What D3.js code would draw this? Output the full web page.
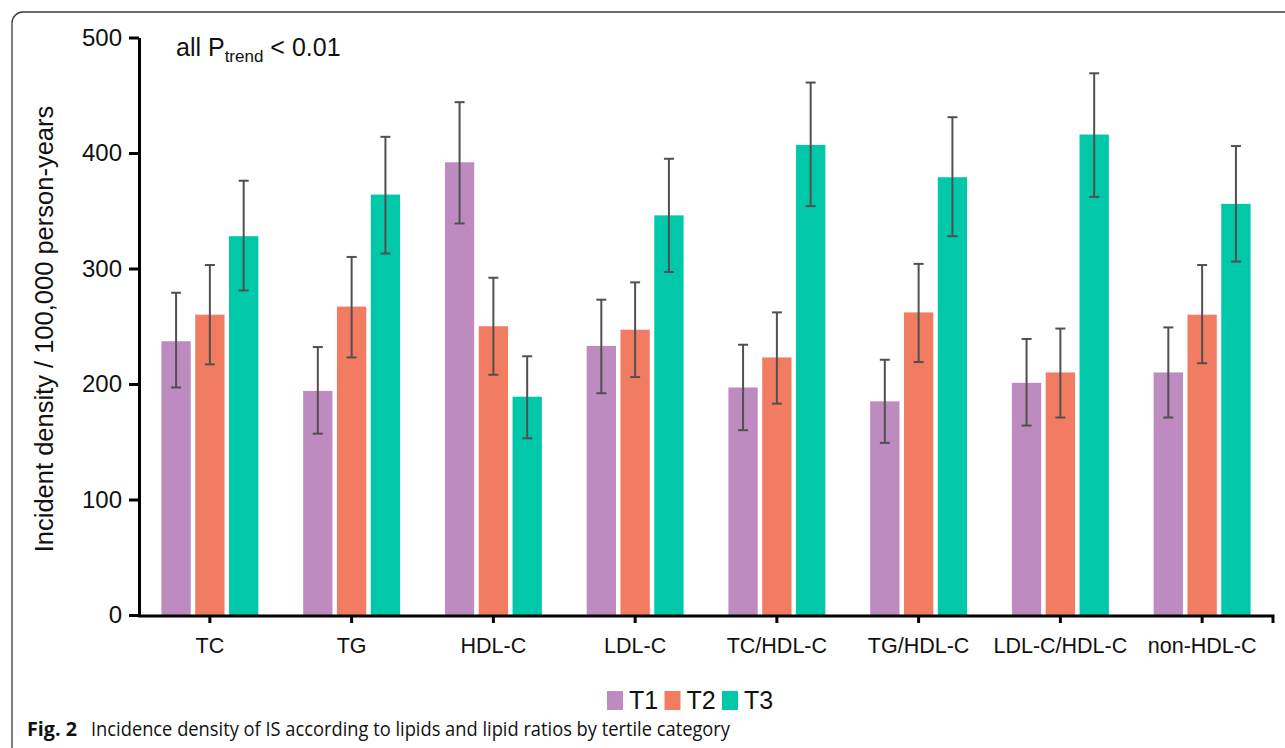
<!DOCTYPE html>
<html>
<head>
<meta charset="utf-8">
<script src="https://cdn.jsdelivr.net/npm/d3@7/dist/d3.min.js"></script>
<style>
  html, body { margin: 0; padding: 0; background: #ffffff; }
  svg { display: block; }
  text { font-family: "Liberation Sans", Arial, Helvetica, sans-serif; fill: #111; }
</style>
</head>
<body>
<svg id="chart" width="1285" height="748"></svg>
<script>
// ---------- data ----------
const categories = ["TC", "TG", "HDL-C", "LDL-C", "TC/HDL-C", "TG/HDL-C", "LDL-C/HDL-C", "non-HDL-C"];
const seriesNames = ["T1", "T2", "T3"];
const t1Values = [237, 194, 392, 233, 197, 185, 201, 210];
const t1Lower  = [197, 157, 339, 192, 160, 149, 164, 171];
const t1Upper  = [279, 232, 444, 273, 234, 221, 239, 249];
const t2Values = [260, 267, 250, 247, 223, 262, 210, 260];
const t2Lower  = [217, 223, 208, 206, 183, 219, 171, 218];
const t2Upper  = [303, 310, 292, 288, 262, 304, 248, 303];
const t3Values = [328, 364, 189, 346, 407, 379, 416, 356];
const t3Lower  = [281, 313, 153, 297, 354, 328, 362, 306];
const t3Upper  = [376, 414, 224, 395, 461, 431, 469, 406];
const yTicks = [0, 100, 200, 300, 400, 500];
const seriesColors = ["#bd8bbf", "#f27c61", "#00c8a8"];
const yLabel = "Incident density / 100,000 person-years";
const captionBold = "Fig. 2";
const captionText = "Incidence density of IS according to lipids and lipid ratios by tertile category";

const series = [
  { name: seriesNames[0], values: t1Values, lo: t1Lower, hi: t1Upper, color: seriesColors[0] },
  { name: seriesNames[1], values: t2Values, lo: t2Lower, hi: t2Upper, color: seriesColors[1] },
  { name: seriesNames[2], values: t3Values, lo: t3Lower, hi: t3Upper, color: seriesColors[2] }
];
const rows = [];
series.forEach((s, si) => {
  categories.forEach((c, ci) => {
    rows.push({ cat: c, s: s.name, v: s.values[ci], lo: s.lo[ci], hi: s.hi[ci], color: s.color });
  });
});

// ---------- layout ----------
const svg = d3.select("#chart");
const axisX = 139, x0 = 139, x1 = 1273, yBottom = 615, yTop = 37.5;

// figure frame (rounded, open to the right/bottom)
svg.append("rect")
  .attr("x", 12).attr("y", 12)
  .attr("width", 1400).attr("height", 900)
  .attr("rx", 11).attr("ry", 11)
  .attr("fill", "none").attr("stroke", "#3a3a3a").attr("stroke-width", 1.3);

const x = d3.scaleBand().domain(categories).range([x0, x1]).padding(0);
const xs = d3.scaleBand().domain(seriesNames).range([0, x.bandwidth()])
  .paddingInner(0.133).paddingOuter(0.663);
const y = d3.scaleLinear().domain([0, 500]).range([yBottom, yTop]);

// bars
svg.append("g").selectAll("rect").data(rows).join("rect")
  .attr("x", d => x(d.cat) + xs(d.s))
  .attr("width", xs.bandwidth())
  .attr("y", d => y(d.v))
  .attr("height", d => y(0) - y(d.v))
  .attr("fill", d => d.color);

// error bars
const eb = svg.append("g").attr("stroke", "#505050").attr("stroke-width", 2).attr("fill", "none");
const capW = 10;
rows.forEach(d => {
  const cx = x(d.cat) + xs(d.s) + xs.bandwidth() / 2;
  eb.append("line").attr("x1", cx).attr("x2", cx).attr("y1", y(d.hi)).attr("y2", y(d.lo));
  eb.append("line").attr("x1", cx - capW / 2).attr("x2", cx + capW / 2).attr("y1", y(d.hi)).attr("y2", y(d.hi));
  eb.append("line").attr("x1", cx - capW / 2).attr("x2", cx + capW / 2).attr("y1", y(d.lo)).attr("y2", y(d.lo));
});

// y axis
const yAxis = svg.append("g").attr("transform", `translate(${axisX},0)`)
  .call(d3.axisLeft(y).tickValues(yTicks).tickSize(10).tickPadding(7).tickSizeOuter(0));
yAxis.select(".domain").attr("stroke", "#000").attr("stroke-width", 3);
yAxis.selectAll(".tick line").attr("stroke", "#000").attr("stroke-width", 3);
yAxis.selectAll(".tick text").style("font-size", "24px").attr("fill", "#111")
  .style("font-family", "'Liberation Sans', Arial, sans-serif");

// x axis
const xAxis = svg.append("g").attr("transform", `translate(0,${yBottom + 1})`)
  .call(d3.axisBottom(x).tickSize(7).tickSizeOuter(0).tickPadding(15));
xAxis.select(".domain").attr("stroke", "#000").attr("stroke-width", 3)
  .attr("d", `M${x0 - 1},0H${x1}V7`);
xAxis.selectAll(".tick line").attr("stroke", "#000").attr("stroke-width", 3);
xAxis.selectAll(".tick text").style("font-size", "21.5px").attr("fill", "#111")
  .style("font-family", "'Liberation Sans', Arial, sans-serif");

// y label
svg.append("text")
  .attr("transform", `translate(53,${(100 + 558) / 2}) rotate(-90)`)
  .attr("text-anchor", "middle")
  .style("font-size", "25.5px")
  .text(yLabel);

// p-trend annotation
const pt = svg.append("text").attr("x", 176).attr("y", 56).style("font-size", "25px");
pt.append("tspan").text("all P");
pt.append("tspan").attr("dy", 6).style("font-size", "17px").text("trend");
pt.append("tspan").attr("dy", -6).text(" < 0.01");

// legend
const legStep = 57.5, legX = 607, legY = 691;
const leg = svg.append("g");
series.forEach((s, i) => {
  const gx = legX + i * legStep;
  leg.append("rect").attr("x", gx).attr("y", legY).attr("width", 16).attr("height", 19).attr("fill", s.color);
  leg.append("text").attr("x", gx + 22).attr("y", legY + 18).style("font-size", "25px").text(s.name);
});

// caption
svg.append("text").attr("x", 27).attr("y", 736)
  .style("font-family", "'Open Sans', 'Noto Sans', sans-serif")
  .style("font-size", "20px").style("font-weight", "bold").attr("fill", "#231f20")
  .attr("textLength", 50).attr("lengthAdjust", "spacingAndGlyphs")
  .text(captionBold);
svg.append("text").attr("x", 91).attr("y", 736)
  .style("font-family", "'Open Sans', 'Noto Sans', sans-serif")
  .style("font-size", "20px").attr("fill", "#231f20")
  .attr("textLength", 639).attr("lengthAdjust", "spacingAndGlyphs")
  .text(captionText);
</script>
</body>
</html>
